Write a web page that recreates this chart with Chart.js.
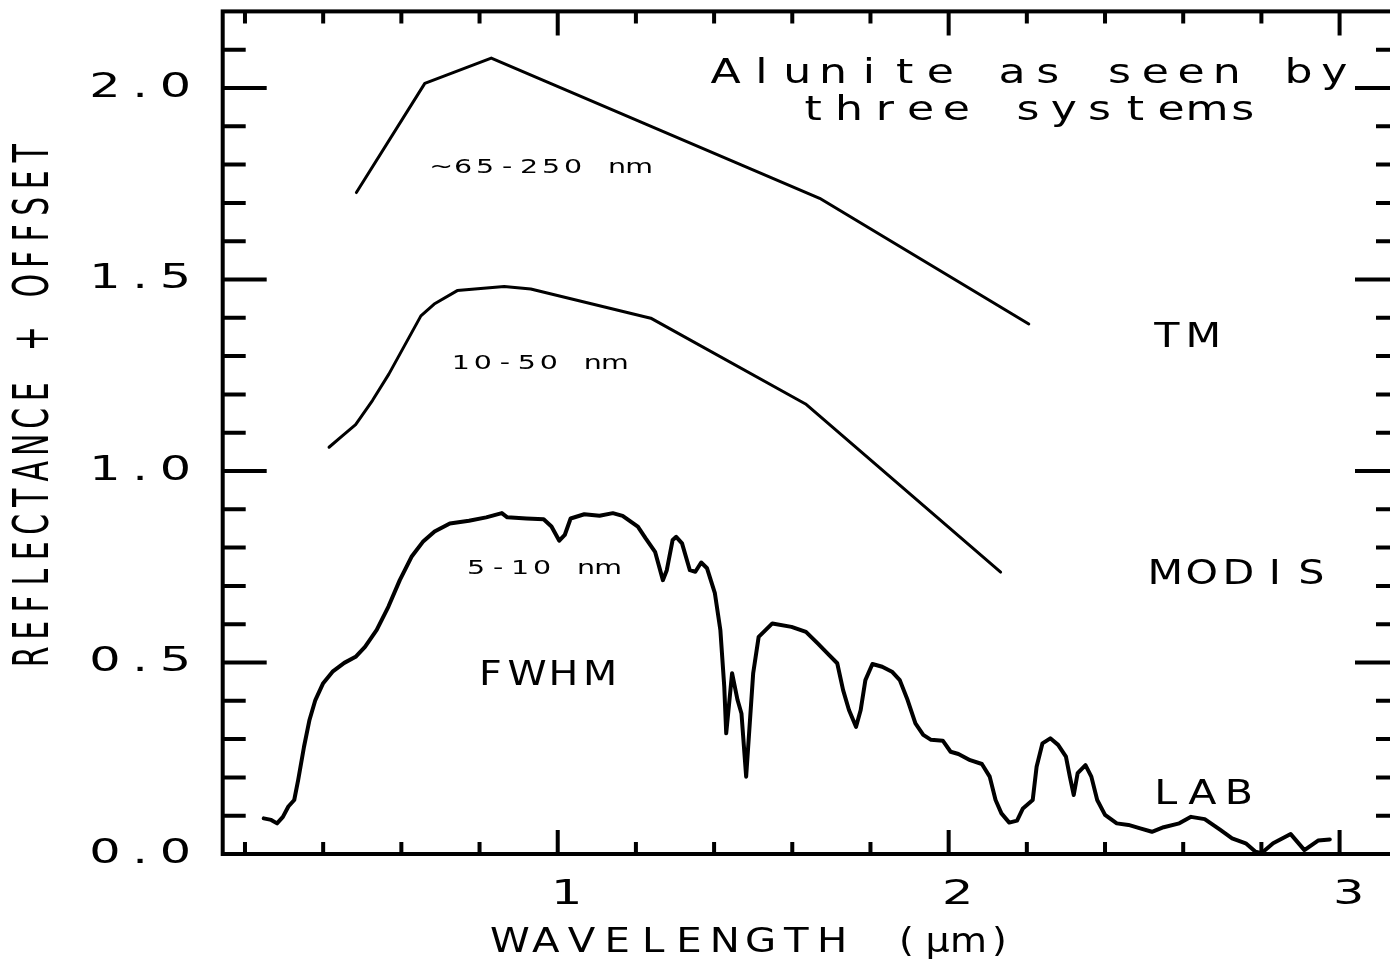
<!DOCTYPE html>
<html>
<head>
<meta charset="utf-8">
<title>Alunite as seen by three systems</title>
<script src="https://cdn.jsdelivr.net/npm/chart.js@4.4.1/dist/chart.umd.min.js"></script>
<style>
  html, body { margin: 0; padding: 0; background: #fff; overflow: hidden; }
  #wrap { width: 1410px; height: 964px; }
</style>
</head>
<body>
<div id="wrap"><canvas id="myChart" width="1410" height="964"></canvas></div>
<script>
// values (wavelength in um, reflectance + offset)
const tmWave = [0.485, 0.66, 0.83, 1.67, 2.205];
const tmRefl = [1.727, 2.012, 2.078, 1.712, 1.384];

const modisWave = [0.415, 0.449, 0.483, 0.526, 0.568, 0.650, 0.684, 0.743, 0.863, 0.931, 1.238, 1.634, 2.133];
const modisRefl = [1.062, 1.092, 1.121, 1.184, 1.253, 1.405, 1.436, 1.471, 1.482, 1.475, 1.399, 1.175, 0.736];

const labWave = [
  0.248, 0.267, 0.282, 0.297, 0.311, 0.326, 0.336, 0.351, 0.365, 0.380,
  0.400, 0.424, 0.454, 0.483, 0.507, 0.537, 0.567, 0.596, 0.626, 0.655,
  0.685, 0.724, 0.773, 0.817, 0.857, 0.871, 0.920, 0.964, 0.984, 1.004,
  1.018, 1.033, 1.068, 1.107, 1.141, 1.166, 1.205, 1.225, 1.249, 1.269,
  1.279, 1.294, 1.303, 1.318, 1.338, 1.352, 1.367, 1.382, 1.402, 1.416,
  1.426, 1.431, 1.446, 1.460, 1.470, 1.482, 1.500, 1.514, 1.549, 1.598,
  1.635, 1.665, 1.690, 1.715, 1.730, 1.745, 1.763, 1.775, 1.787, 1.805,
  1.830, 1.855, 1.875, 1.895, 1.915, 1.935, 1.955, 1.985, 2.005, 2.025,
  2.055, 2.085, 2.105, 2.120, 2.135, 2.155, 2.175, 2.190, 2.215, 2.225,
  2.240, 2.260, 2.280, 2.300, 2.310, 2.320, 2.330, 2.350, 2.365, 2.380,
  2.400, 2.430, 2.460, 2.490, 2.520, 2.550, 2.590, 2.620, 2.655, 2.695,
  2.725, 2.760, 2.785, 2.800, 2.830, 2.875, 2.910, 2.945, 2.975
];
const labRefl = [
  0.093, 0.089, 0.080, 0.097, 0.124, 0.141, 0.193, 0.280, 0.350, 0.402,
  0.446, 0.476, 0.499, 0.515, 0.541, 0.585, 0.646, 0.715, 0.776, 0.815,
  0.842, 0.863, 0.870, 0.879, 0.890, 0.879, 0.876, 0.874, 0.855, 0.818,
  0.833, 0.876, 0.887, 0.883, 0.890, 0.883, 0.855, 0.824, 0.789, 0.715,
  0.741, 0.820, 0.828, 0.811, 0.741, 0.737, 0.761, 0.746, 0.681, 0.585,
  0.437, 0.315, 0.472, 0.402, 0.367, 0.202, 0.472, 0.567, 0.602, 0.593,
  0.580, 0.550, 0.524, 0.498, 0.428, 0.376, 0.332, 0.376, 0.454, 0.496,
  0.489, 0.476, 0.454, 0.402, 0.341, 0.311, 0.298, 0.296, 0.267, 0.261,
  0.245, 0.235, 0.202, 0.141, 0.106, 0.082, 0.087, 0.119, 0.141, 0.228,
  0.289, 0.302, 0.285, 0.254, 0.202, 0.154, 0.211, 0.232, 0.202, 0.141,
  0.102, 0.080, 0.076, 0.067, 0.058, 0.070, 0.080, 0.097, 0.091, 0.063,
  0.041, 0.028, 0.006, 0.002, 0.028, 0.052, 0.010, 0.035, 0.038
];

const xTickValues = [1, 2, 3];
const yTickValues = [0, 0.5, 1, 1.5, 2];

// text labels placed in data units: [text, x centre, baseline y, size, pitch, x-stretch]
const notes = [
  ['Alunite as seen by', 2.208, 2.014, 34, 35.8, 1.3],
  ['three systems', 2.203, 1.916, 34, 35.8, 1.3],
  ['~65-250 nm', 0.955, 1.777, 19, 22, 1.5],
  ['10-50 nm', 0.949, 1.266, 19, 22, 1.5],
  ['5-10 nm', 0.960, 0.731, 19, 22, 1.5],
  ['FWHM', 0.968, 0.441, 33, 36.5, 1.2],
  ['TM', 2.605, 1.325, 33, 36.5, 1.25],
  ['MODIS', 2.741, 0.705, 33, 36.5, 1.25],
  ['LAB', 2.649, 0.131, 33, 36.5, 1.25]
];

const FONT = "'DejaVu Sans', 'Liberation Sans', sans-serif";

function pairs(xs, ys) {
  return xs.map((x, i) => ({ x: x, y: ys[i] }));
}

// draws characters on a fixed pitch, like the plotter font of the original
function spaced(ctx, str, cx, cy, size, pitch, sx, rot, baseline) {
  ctx.save();
  ctx.translate(cx, cy);
  if (rot) ctx.rotate(rot);
  ctx.font = size + 'px ' + FONT;
  ctx.textAlign = 'center';
  ctx.textBaseline = baseline || 'alphabetic';
  ctx.fillStyle = '#000';
  const chars = Array.from(str);
  const start = -pitch * (chars.length - 1) / 2;
  chars.forEach((ch, i) => {
    ctx.save();
    ctx.translate(start + i * pitch, 0);
    ctx.scale(sx || 1, 1);
    ctx.fillText(ch, 0, 0);
    ctx.restore();
  });
  ctx.restore();
}

const frame = {
  id: 'frame',
  afterDraw(chart) {
    const ctx = chart.ctx;
    const a = chart.chartArea;
    const x = chart.scales.x;
    const y = chart.scales.y;
    ctx.save();
    ctx.strokeStyle = '#000';
    ctx.lineWidth = 4;
    ctx.lineCap = 'butt';
    ctx.strokeRect(a.left, a.top, a.right - a.left, a.bottom - a.top);

    // inward ticks on all four sides
    ctx.beginPath();
    for (let i = 1; i <= 15; i++) {
      const px = x.getPixelForValue(i * 0.2);
      const len = i % 5 === 0 ? 24 : 12;
      ctx.moveTo(px, a.bottom); ctx.lineTo(px, a.bottom - len);
      ctx.moveTo(px, a.top); ctx.lineTo(px, a.top + len);
    }
    for (let i = 1; i <= 21; i++) {
      const py = y.getPixelForValue(i * 0.1);
      const len = i % 5 === 0 ? 44 : 23;
      ctx.moveTo(a.left, py); ctx.lineTo(a.left + len, py);
      ctx.moveTo(a.right, py); ctx.lineTo(a.right - len, py);
    }
    ctx.stroke();

    // tick numbers from the scales' own ticks
    y.ticks.forEach(t => {
      spaced(ctx, t.value.toFixed(1), a.left - 82.5, y.getPixelForValue(t.value), 34, 35.3, 1.45, 0, 'middle');
    });
    x.ticks.forEach(t => {
      spaced(ctx, String(t.value), x.getPixelForValue(t.value) + 9, a.bottom + 41, 34, 35.3, 1.45, 0, 'middle');
    });

    // axis titles
    spaced(ctx, 'REFLECTANCE + OFFSET', 35, 405, 50, 26.5, 0.6, -Math.PI / 2, 'middle');
    spaced(ctx, 'WAVELENGTH', 671, a.bottom + 89, 33, 35.8, 1.22, 0, 'middle');
    spaced(ctx, '(µm)', 953, a.bottom + 89, 33, 31, 1.15, 0, 'middle');

    notes.forEach(n => {
      spaced(ctx, n[0], x.getPixelForValue(n[1]), y.getPixelForValue(n[2]), n[3], n[4], n[5], 0, 'alphabetic');
    });
    ctx.restore();
  }
};

function fixBox(w, h) {
  return s => {
    if (w !== null) s.width = w;
    if (h !== null) s.height = h;
    s.paddingTop = 0; s.paddingBottom = 0; s.paddingLeft = 0; s.paddingRight = 0;
  };
}

const ctx = document.getElementById('myChart').getContext('2d');
const myChart = new Chart(ctx, {
  type: 'line',
  data: {
    datasets: [
      { label: 'TM', data: pairs(tmWave, tmRefl), borderWidth: 3 },
      { label: 'MODIS', data: pairs(modisWave, modisRefl), borderWidth: 3 },
      { label: 'LAB', data: pairs(labWave, labRefl), borderWidth: 4 }
    ]
  },
  options: {
    responsive: false,
    animation: false,
    devicePixelRatio: 1,
    layout: { padding: { top: 11.4, right: 11, left: 0, bottom: 0 } },
    elements: {
      point: { radius: 0 },
      line: { borderColor: '#000', tension: 0, borderJoinStyle: 'round', borderCapStyle: 'round', fill: false }
    },
    plugins: { legend: { display: false }, tooltip: { enabled: false } },
    scales: {
      x: {
        type: 'linear',
        min: 0.143,
        max: 3.152,
        grid: { display: false, drawTicks: false },
        border: { display: false },
        ticks: { display: false },
        afterBuildTicks: s => { s.ticks = xTickValues.map(v => ({ value: v })); },
        afterFit: fixBox(null, 110)
      },
      y: {
        type: 'linear',
        min: 0,
        max: 2.2,
        grid: { display: false, drawTicks: false },
        border: { display: false },
        ticks: { display: false },
        afterBuildTicks: s => { s.ticks = yTickValues.map(v => ({ value: v })); },
        afterFit: fixBox(222.7, null)
      }
    }
  },
  plugins: [frame]
});
</script>
</body>
</html>
